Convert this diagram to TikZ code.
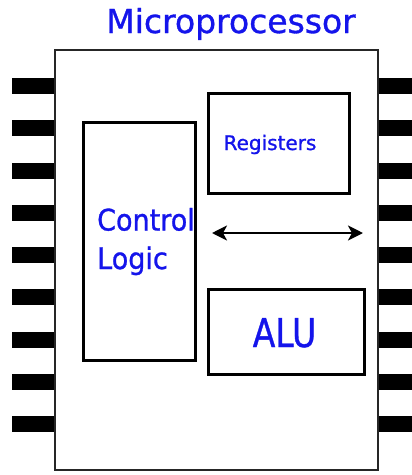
\documentclass[tikz,border=0pt]{standalone}
\usepackage{fontspec}
\setmainfont{DejaVu Sans}[FakeBold=1]
\usepackage{tikz}
\usetikzlibrary{positioning,arrows.meta}
\definecolor{chipblue}{RGB}{20,20,235}

\begin{document}
\begin{tikzpicture}[x=1pt,y=-1pt,
  blk/.style={draw,line width=3pt,inner sep=0pt},
  lbl/.style={text=chipblue,inner sep=0pt}]
  \useasboundingbox (0,0) rectangle (412,475);
  \foreach \i in {0,...,8}{
    \fill (12,{86+42.25*\i-8}) rectangle (55,{86+42.25*\i+8});
    \fill (378,{86+42.25*\i-8}) rectangle (412,{86+42.25*\i+8});
  }
  \node[draw=black!85,line width=2.4pt,fill=white,inner sep=0pt,minimum width=323pt,minimum height=420pt] (chip) at (216.5,260){};
  \node[lbl,anchor=base,font=\fontsize{33}{33}\selectfont] (title) at (231,33){Microprocessor};
  \node[blk,minimum width=112pt,minimum height=238pt] (ctrl) at (139,241){};
  \node[blk,minimum width=141pt,minimum height=100pt] (reg) at (278.5,143){};
  \node[blk,minimum width=156pt,minimum height=85pt] (alu) at (286,331.5){};
  \node[lbl,anchor=base west,align=left,yscale=1.1,font=\fontsize{27}{35}\selectfont] (ctrltxt) at (97,269){Control\\Logic};
  \node[lbl,anchor=base,font=\fontsize{20}{20}\selectfont] (regtxt) at (270,150){Registers};
  \node[lbl,anchor=base,yscale=1.2,font=\fontsize{33}{33}\selectfont] (alutxt) at (284.5,347){ALU};
  \coordinate (busL) at (212,233);
  \coordinate (busR) at (363,233);
  \draw[{Stealth[length=15pt,width=15pt,inset=4pt]}-{Stealth[length=15pt,width=15pt,inset=4pt]},line width=2.6pt] (busL) -- (busR);
\end{tikzpicture}
\end{document}
